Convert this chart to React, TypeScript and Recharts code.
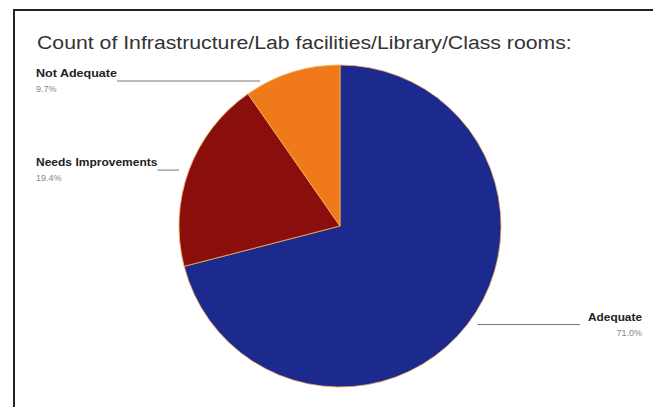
import React from 'react';
import { Pie, PieChart, Cell } from 'recharts';

const categories = ['Adequate', 'Needs Improvements', 'Not Adequate'];
const counts = [22, 6, 3];
const colors = ['#1b2a8c', '#8a0f0c', '#f07a1a'];

const data = categories.map((name, i) => ({ name, value: counts[i] }));

const RAD = Math.PI / 180;

const renderLabel = (props: any) => {
	const { cx, cy, midAngle, outerRadius, name, percent } = props;
	const px = cx + outerRadius * Math.cos(-midAngle * RAD);
	const py = cy + outerRadius * Math.sin(-midAngle * RAD);
	const right = px > cx;
	const dy = Math.max(-outerRadius + 16, Math.min(outerRadius - 1, py - cy));
	const lineY = cy + dy;
	const edge = Math.sqrt(outerRadius * outerRadius - dy * dy) + 10;
	const edgeX = right ? cx + edge : cx - edge;
	const textX = right ? 642 : 36;
	const nameW = name.length * 6.75;
	const lineFrom = right ? textX - nameW - 8 : textX + nameW;
	return (
		<g>
			<line x1={lineFrom} y1={lineY} x2={edgeX} y2={lineY} stroke="#777" strokeWidth={1} />
			<text
				x={textX}
				y={lineY - 4}
				textAnchor={right ? 'end' : 'start'}
				fontSize={10}
				fontWeight={700}
				fill="#222"
				textLength={nameW}
				lengthAdjust="spacingAndGlyphs"
				fontFamily="Liberation Sans, Arial, sans-serif"
			>
				{name}
			</text>
			<text
				x={textX}
				y={lineY + 11}
				textAnchor={right ? 'end' : 'start'}
				fontSize={9}
				fill="#888"
				fontFamily="Liberation Sans, Arial, sans-serif"
			>
				{(percent * 100).toFixed(1)}%
			</text>
		</g>
	);
};

const App = () => {
	return (
		<div
			style={{
				position: 'absolute',
				left: 0,
				top: 0,
				width: 653,
				height: 407,
				background: '#fff',
				overflow: 'hidden',
			}}
		>
			<div
				style={{
					position: 'absolute',
					left: 13,
					top: 9,
					width: 660,
					height: 420,
					borderLeft: '2px solid #222',
					borderTop: '2px solid #222',
				}}
			/>
			<div
				style={{
					position: 'absolute',
					left: 37,
					top: 33,
					fontFamily: 'Liberation Sans, Arial, sans-serif',
					fontSize: 18,
					color: '#333',
					whiteSpace: 'nowrap',
					transform: 'scaleX(1.18)',
					transformOrigin: 'left center',
				}}
			>
				Count of Infrastructure/Lab facilities/Library/Class rooms:
			</div>
			<div style={{ position: 'absolute', left: 0, top: 0 }}>
				<PieChart width={653} height={407} margin={{ top: 0, right: 0, bottom: 0, left: 0 }}>
					<Pie
						data={data}
						dataKey="value"
						nameKey="name"
						cx={340}
						cy={226}
						outerRadius={161}
						startAngle={90}
						endAngle={-270}
						stroke="#f3b060"
						strokeWidth={0.8}
						label={renderLabel}
						labelLine={false}
						isAnimationActive={false}
					>
						{data.map((d, i) => (
							<Cell key={d.name} fill={colors[i]} />
						))}
					</Pie>
				</PieChart>
			</div>
		</div>
	);
};

export default App;
